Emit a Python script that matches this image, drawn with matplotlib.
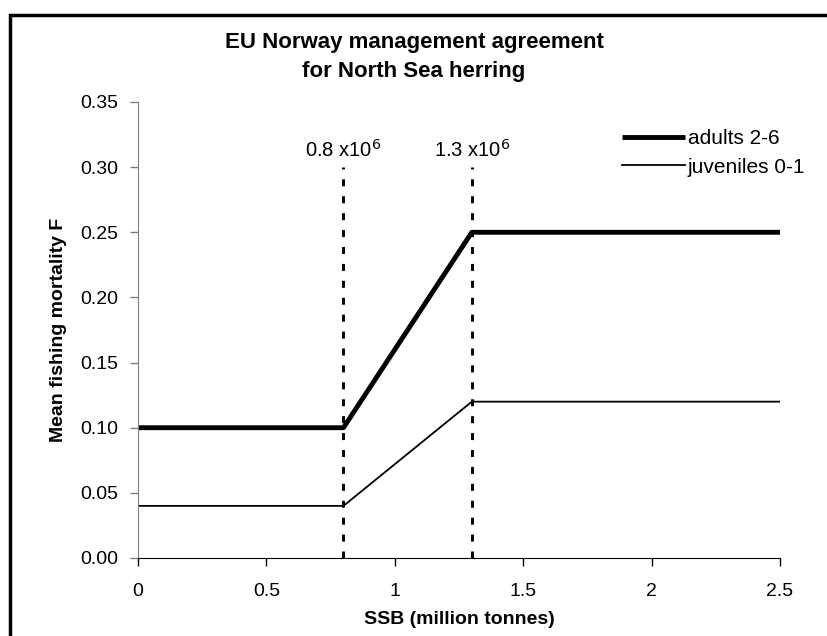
import matplotlib.pyplot as plt
from matplotlib.patches import Rectangle

plt.rcParams['font.family'] = ['Liberation Sans', 'DejaVu Sans']

# data
ssb = [0, 0.8, 1.3, 2.5]
f_adults = [0.10, 0.10, 0.25, 0.25]
f_juveniles = [0.04, 0.04, 0.12, 0.12]
breakpoints = [0.8, 1.3]
break_labels = ['0.8 x10$^{6}$', '1.3 x10$^{6}$']
yticks = [0.00, 0.05, 0.10, 0.15, 0.20, 0.25, 0.30, 0.35]
xticks = [0, 0.5, 1, 1.5, 2, 2.5]
xticklabels = ['0', '0.5', '1', '1.5', '2', '2.5']

fig = plt.figure(figsize=(8.28, 6.36), dpi=100)
ax = fig.add_axes([138/828, 1 - 558/636, (780-138)/828, (558-102)/636])

ax.plot(ssb, f_adults, color='black', linewidth=3.5, label='adults 2-6', solid_capstyle='butt')
ax.plot(ssb, f_juveniles, color='black', linewidth=1.3, label='juveniles 0-1')

for b, lab in zip(breakpoints, break_labels):
    ax.plot([b, b], [0, 0.30], color='black', linestyle=(0, (2.4, 3.4)), linewidth=2.1)
    ax.text(b, 0.305, lab, ha='center', va='bottom', fontsize=14.5)

ax.set_xlim(0, 2.5)
ax.set_ylim(0, 0.35)
ax.set_xticks(xticks)
ax.set_xticklabels(xticklabels)
ax.set_yticks(yticks)
ax.set_yticklabels(['%.2f' % v for v in yticks])
ax.tick_params(labelsize=14, direction='out', length=6, width=1)
ax.tick_params(axis='x', pad=12)
ax.tick_params(axis='y', colors='#808080', labelcolor='black', pad=8)

for s in ['top', 'right']:
    ax.spines[s].set_visible(False)
ax.spines['left'].set_color('#808080')
ax.spines['bottom'].set_color('black')

ax.set_xlabel('SSB (million tonnes)', fontsize=14, fontweight='bold', labelpad=8)
ax.set_ylabel('Mean fishing mortality F', fontsize=14, fontweight='bold', labelpad=10)
fig.text(0.5, 1 - 57/636, 'EU Norway management agreement\nfor North Sea herring', ha='center', va='center',
         fontsize=16, fontweight='bold', linespacing=1.45)

ax.legend(loc='upper left', frameon=False, fontsize=15, handlelength=3.0, handletextpad=0.15,
          labelspacing=0.45, borderpad=0, borderaxespad=0, bbox_to_anchor=(0.754, 0.94))

fig.patches.append(Rectangle((9.5/828, -0.1), 1.2, (636-14.5)/636 + 0.1, transform=fig.transFigure,
                             fill=False, edgecolor='black', linewidth=2.5, clip_on=False))

fig.savefig('out.png', dpi=100)
